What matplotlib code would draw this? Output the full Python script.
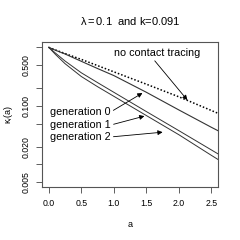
import matplotlib
matplotlib.use('Agg')
import matplotlib.pyplot as plt

plt.rcParams['font.family'] = ['Liberation Sans', 'DejaVu Sans']
plt.rcParams['mathtext.fontset'] = 'custom'
plt.rcParams['mathtext.rm'] = 'Liberation Sans'
plt.rcParams['mathtext.it'] = 'Liberation Sans:italic'

# values
a = [0.0, 0.1, 0.25, 0.5, 0.75, 1.0, 1.5, 2.0, 2.5, 2.6]
no_tracing = [1.0, 0.905, 0.785, 0.623, 0.488, 0.382, 0.235, 0.143, 0.0835, 0.0749]
generation0 = [1.0, 0.895, 0.771, 0.578, 0.435, 0.330, 0.171, 0.0853, 0.0431, 0.0378]
generation1 = [1.0, 0.803, 0.585, 0.368, 0.250, 0.171, 0.0801, 0.0378, 0.0177, 0.0152]
generation2 = [1.0, 0.763, 0.527, 0.318, 0.213, 0.146, 0.0685, 0.0322, 0.0143, 0.0122]

x_ticks = [0.0, 0.5, 1.0, 1.5, 2.0, 2.5]
y_ticks = [1.0, 0.5, 0.2, 0.1, 0.05, 0.02, 0.01, 0.005]
y_labels = ['', '0.500', '', '0.100', '', '0.020', '', '0.005']

fig = plt.figure(figsize=(2.4, 2.4), dpi=100)
ax = fig.add_axes([0.175, 0.221, 0.733, 0.604])

line_col = '#333333'
ax.plot(a, no_tracing, color='black', linestyle=(0, (1, 1.3)), linewidth=1.1)
ax.plot(a, generation0, color=line_col, linewidth=0.8)
ax.plot(a, generation1, color=line_col, linewidth=0.7)
ax.plot(a, generation2, color=line_col, linewidth=0.7)

ax.set_yscale('log')
ax.set_xlim(-0.104, 2.6)
ax.set_ylim(0.00413, 1.235)
ax.set_xticks(x_ticks)
ax.set_xticklabels(['0.0', '0.5', '1.0', '1.5', '2.0', '2.5'])
ax.set_yticks(y_ticks)
ax.set_yticklabels(y_labels, rotation=90, va='center')
ax.minorticks_off()
ax.tick_params(labelsize=6.3, length=4, width=0.6, color='#444444', pad=4.5)

for sp in ax.spines.values():
    sp.set_color('#555555')
    sp.set_linewidth(0.8)

ax.set_xlabel('a', fontsize=6.5, labelpad=9)
fig.text(0.035, 0.523, r'$\mathrm{\kappa}_i\mathrm{(a)}$', fontsize=6.5,
         rotation=90, ha='center', va='center')
ax.set_title(r'$\mathrm{\lambda = 0.1}$  and k=0.091', fontsize=8, pad=12)

arrow = dict(arrowstyle='-|>', color='black', lw=0.6, mutation_scale=7,
             shrinkA=0, shrinkB=0)
ax.annotate('no contact tracing', xy=(2.13, 0.126), xytext=(1.66, 0.80),
            fontsize=7.75, ha='center', va='center',
            arrowprops=dict(arrow, relpos=(0.45, 0.0)))
ax.annotate('generation 0', xy=(1.44, 0.166), xytext=(0.02, 0.0787),
            fontsize=7.75, ha='left', va='center',
            arrowprops=dict(arrow, relpos=(1.0, 0.5)))
ax.annotate('generation 1', xy=(1.47, 0.067), xytext=(0.02, 0.0472),
            fontsize=7.75, ha='left', va='center',
            arrowprops=dict(arrow, relpos=(1.0, 0.5)))
ax.annotate('generation 2', xy=(1.75, 0.0356), xytext=(0.02, 0.0295),
            fontsize=7.75, ha='left', va='center',
            arrowprops=dict(arrow, relpos=(1.0, 0.5)))

fig.savefig('out.png', dpi=100)
